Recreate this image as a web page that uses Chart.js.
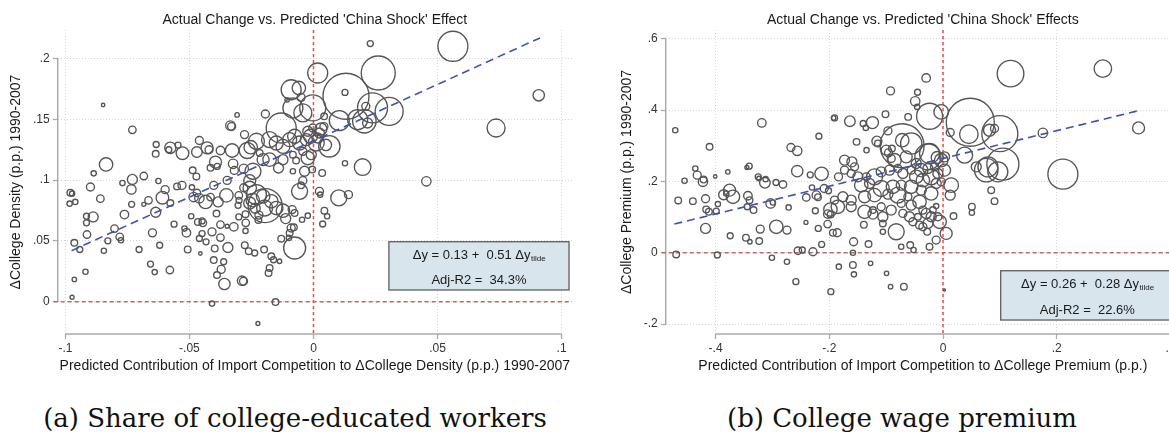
<!DOCTYPE html>
<html>
<head>
<meta charset="utf-8">
<script src="https://cdn.jsdelivr.net/npm/chart.js@4.4.1/dist/chart.umd.min.js"></script>
<style>
  html, body { margin: 0; padding: 0; background: #fff; width: 1169px; height: 438px; overflow: hidden; position: relative; }
  canvas { position: absolute; top: 0; }
  #densityChart { left: 0; }
  #premiumChart { left: 580px; }
  .caption { position: absolute; top: 403px; font-family: "DejaVu Serif", serif; font-size: 26px; color: #111; white-space: nowrap; transform: translateX(-50%); }
</style>
</head>
<body>
<canvas id="densityChart" width="580" height="380"></canvas>
<canvas id="premiumChart" width="610" height="380"></canvas>
<div class="caption" style="left:295px">(a) Share of college-educated workers</div>
<div class="caption" style="left:902px">(b) College wage premium</div>
<script>
// each observation: [predicted contribution, actual change, weight]
const densityObs = [
  [-0.0848,0.1617,3],[-0.073,0.1413,14],[-0.0836,0.1128,45],[-0.0886,0.1055,7],[-0.098,0.0896,11],
  [-0.0973,0.0888,7],[-0.0983,0.0806,7],[-0.096,0.082,7],[-0.0899,0.0943,16],[-0.0859,0.0847,14],
  [-0.0915,0.0702,9],[-0.0888,0.0697,25],[-0.0915,0.0648,9],[-0.0913,0.0552,14],[-0.0964,0.0484,11],
  [-0.0942,0.0429,9],[-0.0845,0.0418,7],[-0.0919,0.0246,7],[-0.0964,0.0183,5],[-0.0973,0.0036,4],
  [-0.0802,0.0601,14],[-0.0781,0.0533,14],[-0.0829,0.05,9],[-0.0776,0.0505,7],[-0.0762,0.0716,18],
  [-0.0733,0.08,9],[-0.073,0.1005,25],[-0.0734,0.0923,22],[-0.077,0.0975,7],[-0.0684,0.1033,14],
  [-0.0634,0.1292,9],[-0.0636,0.1216,11],[-0.0577,0.1265,32],[-0.0583,0.1249,9],[-0.0546,0.1287,9],
  [-0.0528,0.1221,40],[-0.0625,0.0992,7],[-0.0598,0.0921,16],[-0.0609,0.0855,40],[-0.0665,0.0833,14],
  [-0.0684,0.08,4],[-0.0636,0.0735,25],[-0.0649,0.0566,16],[-0.062,0.0464,9],[-0.0657,0.0309,9],
  [-0.064,0.0243,7],[-0.0579,0.026,14],[-0.0703,0.0429,9],[-0.0577,0.0811,11],[-0.055,0.0948,11],
  [-0.053,0.0956,16],[-0.0562,0.0637,9],[-0.052,0.0601,7],[-0.0512,0.0566,18],[-0.0507,0.0429,11],
  [-0.0487,0.108,11],[-0.0472,0.103,11],[-0.046,0.1325,16],[-0.047,0.123,28],[-0.0429,0.1265,36],
  [-0.0421,0.1249,16],[-0.0375,0.1243,18],[-0.0328,0.1243,45],[-0.0395,0.1148,36],[-0.0415,0.1101,11],
  [-0.0388,0.1112,9],[-0.049,0.094,7],[-0.0483,0.086,22],[-0.046,0.085,22],[-0.0435,0.082,45],
  [-0.047,0.0894,14],[-0.0402,0.0956,16],[-0.0348,0.0997,16],[-0.0351,0.0874,45],[-0.0384,0.082,25],
  [-0.0415,0.086,14],[-0.0391,0.0724,11],[-0.0375,0.0634,14],[-0.0321,0.0615,18],[-0.0348,0.062,4],
  [-0.0493,0.0702,7],[-0.0466,0.0656,11],[-0.0446,0.0648,14],[-0.0449,0.0664,9],[-0.0449,0.056,9],
  [-0.046,0.0519,9],[-0.0433,0.0492,9],[-0.0456,0.0396,3],[-0.0409,0.0574,16],[-0.0375,0.0527,14],
  [-0.0345,0.0445,25],[-0.0398,0.0437,11],[-0.0402,0.0342,11],[-0.0362,0.0328,9],[-0.0372,0.0265,16],
  [-0.0389,0.0219,11],[-0.0359,0.0145,32],[-0.0409,-0.0016,7],[-0.0288,0.0172,22],[-0.0282,0.0168,16],
  [-0.0335,0.1448,22],[-0.033,0.144,16],[-0.0308,0.1536,5],[-0.0278,0.1374,16],[-0.0324,0.1134,22],
  [-0.0319,0.1079,16],[-0.0281,0.1093,22],[-0.0267,0.1243,64],[-0.0253,0.127,45],[-0.0281,0.0937,16],
  [-0.0301,0.0874,14],[-0.0304,0.0792,9],[-0.03,0.0833,9],[-0.0257,0.0811,36],[-0.0301,0.0697,9],
  [-0.0274,0.0719,11],[-0.0273,0.0648,14],[-0.0274,0.0582,7],[-0.0277,0.0464,11],[-0.0261,0.0415,11],
  [0.0229,0.2122,9],[0.0017,0.188,100],[0.0261,0.188,289],[0.0131,0.1689,529],[0.0127,0.1721,9],
  [-0.009,0.1743,100],[-0.0059,0.1757,45],[-0.005,0.168,16],[-0.0106,0.166,5],[-0.0003,0.1593,169],
  [-0.0043,0.1552,81],[-0.0083,0.1593,100],[0.0211,0.1606,16],[0.0238,0.1593,225],[0.0305,0.1565,196],
  [0.0178,0.1497,100],[0.0104,0.1489,100],[0.0205,0.1483,137],[0.0218,0.1469,25],[-0.0194,0.1543,16],
  [-0.013,0.1428,225],[-0.023,0.1319,64],[-0.0177,0.1332,64],[-0.015,0.1305,49],[-0.0123,0.1277,49],
  [-0.0096,0.1332,49],[-0.0076,0.136,49],[-0.0056,0.1305,49],[-0.0029,0.1332,36],[-0.0012,0.136,49],
  [0.0011,0.1305,64],[0.0017,0.1346,25],[-0.0023,0.1401,25],[0.0024,0.1387,25],[-0.0003,0.1428,16],
  [0.0064,0.1277,114],[-0.0023,0.1181,45],[-0.0009,0.1209,25],[-0.0043,0.1236,16],[-0.0083,0.1209,11],
  [-0.0123,0.1168,25],[-0.007,0.116,11],[-0.0141,0.1099,25],[-0.0177,0.1168,45],[-0.0217,0.1223,11],
  [-0.0083,0.1072,7],[-0.0036,0.1072,25],[-0.0005,0.1086,11],[0.0035,0.1058,11],[0.0127,0.1138,7],
  [0.0198,0.1107,69],[-0.0244,0.1072,64],[-0.0203,0.1168,36],[-0.0043,0.0995,16],[-0.005,0.0957,11],
  [-0.0056,0.0907,64],[0.0024,0.0907,16],[0.0027,0.088,7],[0.0102,0.0853,64],[0.0141,0.088,16],
  [0.0044,0.0748,11],[0.0055,0.0702,7],[0.0037,0.0639,9],[-0.0023,0.0707,7],[-0.0046,0.0674,7],
  [-0.023,0.088,100],[-0.0203,0.0866,45],[-0.017,0.0825,45],[-0.0197,0.077,64],[-0.015,0.077,45],
  [-0.0123,0.0748,45],[-0.0112,0.0683,25],[-0.0195,0.079,289],[-0.0086,0.0757,16],[-0.0076,0.0729,11],
  [-0.009,0.0606,16],[-0.0079,0.0611,11],[-0.0096,0.0565,11],[-0.0099,0.0524,7],[-0.013,0.0518,11],
  [-0.0076,0.0441,121],[-0.0199,0.0428,11],[-0.0237,0.04,9],[-0.017,0.0373,11],[-0.0161,0.0345,9],
  [-0.0137,0.0332,5],[-0.0177,0.0277,11],[-0.0181,0.0236,11],[-0.0153,-0.0003,11],[-0.0224,-0.018,4],
  [0.005,0.1289,32],[0.0042,0.144,16],[0.0043,0.1524,11],[0.003,0.142,36],[-0.0257,0.0995,36],
  [-0.0257,0.0935,45],[-0.0245,0.0835,45],[-0.0235,0.0768,25],[-0.022,0.0712,16],[-0.0222,0.0672,11],
  [0.0562,0.21,225],[0.0908,0.1697,32],[0.0736,0.1428,81],[0.0455,0.099,22]
];

const premiumObs = [
  [-0.471,0.3436,7],[-0.4106,0.2969,11],[-0.3187,0.3641,18],[-0.4358,0.2362,7],[-0.4323,0.2176,16],
  [-0.4223,0.1989,22],[-0.4211,0.2054,11],[-0.4546,0.2017,7],[-0.4007,0.2138,3],[-0.3785,0.2269,5],
  [-0.345,0.239,4],[-0.3409,0.2428,9],[-0.325,0.2129,9],[-0.3238,0.2082,5],[-0.3133,0.1961,28],
  [-0.3121,0.2064,7],[-0.2938,0.197,9],[-0.2815,0.1914,14],[-0.2675,0.295,16],[-0.2564,0.2857,22],
  [-0.2564,0.2288,32],[-0.2335,0.2185,9],[-0.2136,0.2213,45],[-0.2183,0.3268,9],[-0.1925,0.3782,5],
  [-0.4658,0.1466,11],[-0.44,0.1447,11],[-0.4177,0.1513,16],[-0.4165,0.1214,11],[-0.4118,0.1149,11],
  [-0.3989,0.1167,9],[-0.396,0.1363,7],[-0.3859,0.1625,25],[-0.3754,0.1755,36],[-0.3695,0.1569,45],
  [-0.3813,0.1662,7],[-0.4177,0.0682,25],[-0.3743,0.0476,9],[-0.3467,0.042,11],[-0.3397,0.0308,5],
  [-0.3233,0.0327,11],[-0.3432,0.1597,18],[-0.3403,0.1475,11],[-0.3444,0.1289,9],[-0.3333,0.1195,11],
  [-0.3215,0.0663,16],[-0.3033,0.1382,22],[-0.2992,0.141,7],[-0.2933,0.0728,45],[-0.2745,0.0635,16],
  [-0.2716,0.127,7],[-0.2405,0.155,14],[-0.2305,0.183,7],[-0.2246,0.1176,9],[-0.2228,0.1615,18],
  [-0.2199,0.1559,11],[-0.2411,0.085,4],[-0.2194,0.0682,9],[-0.2135,0.0233,9],[-0.2029,0.0803,14],
  [-0.4693,-0.0047,11],[-0.397,-0.0065,9],[-0.301,-0.014,7],[-0.2745,-0.0252,7],[-0.2552,0.0056,14],
  [-0.2476,0.0075,9],[-0.2288,0.0028,16],[-0.2588,-0.0812,9],[-0.1973,-0.1092,9],[-0.2026,0.1083,18],
  [-0.2014,0.1737,9],[-0.209,0.1802,16],[-0.198,0.121,45],[-0.1978,0.1074,11],[-0.1937,0.056,11],
  [-0.0296,0.4902,18],[-0.0923,0.4538,16],[-0.0448,0.45,9],[-0.0489,0.4248,22],[-0.0454,0.409,7],
  [-0.1908,0.3782,9],[-0.1638,0.3688,28],[-0.1405,0.3623,9],[-0.1358,0.3501,7],[-0.1241,0.3651,36],
  [-0.1012,0.3884,11],[-0.0613,0.381,11],[-0.0236,0.3828,169],[-0.0032,0.395,53],[0.048,0.366,576],
  [0.0455,0.3324,86],[0.0818,0.3436,36],[0.0906,0.3483,16],[0.1,0.334,324],[0.0127,0.3371,16],
  [-0.1521,0.3109,11],[-0.1345,0.2876,7],[-0.1163,0.3128,25],[-0.1145,0.3063,11],[-0.0969,0.3417,16],
  [-0.072,0.3,484],[-0.0559,0.3063,114],[-0.0717,0.3156,45],[-0.0899,0.2922,11],[-0.0958,0.2801,16],
  [-0.0911,0.2642,16],[-0.0266,0.2689,169],[-0.0237,0.2782,100],[-0.0032,0.2596,45],[0.0027,0.2689,25],
  [-0.0102,0.267,36],[0.038,0.2736,64],[0.0585,0.2409,25],[0.0761,0.2316,137],[0.079,0.2409,100],
  [0.0965,0.2269,100],[0.0848,0.1755,11],[0.0906,0.1447,11],[0.0508,0.1289,11],[0.0508,0.112,7],
  [0.0144,0.1895,53],[0.0127,0.1615,25],[0.0027,0.2316,36],[-0.1732,0.2596,25],[-0.1603,0.2549,25],
  [-0.1556,0.2409,16],[-0.1615,0.2222,16],[-0.1732,0.2316,16],[-0.1838,0.2129,16],[-0.1497,0.2129,25],
  [-0.135,0.2129,16],[-0.1204,0.2129,64],[-0.1087,0.2269,25],[-0.094,0.2316,25],[-0.0794,0.2362,16],
  [-0.0706,0.2222,25],[-0.0559,0.2316,16],[-0.047,0.2129,45],[-0.0354,0.2035,45],[-0.0208,0.2129,64],
  [-0.012,0.1942,25],[-0.0032,0.1989,16],[-0.1438,0.1895,45],[-0.1292,0.1942,25],[-0.1087,0.1802,64],
  [-0.0881,0.1849,45],[-0.0735,0.1895,25],[-0.0559,0.1849,45],[-0.0383,0.1755,25],[-0.0208,0.1662,45],
  [-0.1761,0.1569,25],[-0.1908,0.1475,16],[-0.1615,0.1475,25],[-0.138,0.1569,36],[-0.1204,0.1615,45],
  [-0.0969,0.1643,25],[-0.0794,0.1615,64],[-0.0618,0.1569,16],[-0.185,0.1289,45],[-0.1615,0.1289,25],
  [-0.138,0.1148,45],[-0.1233,0.1083,25],[-0.1058,0.1008,25],[-0.1058,0.0822,11],[-0.1233,0.1195,11],
  [-0.0823,0.0588,64],[-0.0706,0.1102,16],[-0.0589,0.1008,25],[-0.053,0.0868,16],[-0.0413,0.0775,16],
  [-0.0354,0.0728,16],[-0.0266,0.0822,25],[-0.0296,0.1102,25],[-0.0178,0.1195,11],[-0.012,0.1307,7],
  [-0.009,0.1008,16],[-0.006,0.0868,45],[0.0056,0.0542,36],[-0.012,0.0355,16],[-0.0237,0.0168,11],
  [-0.0278,0.0588,11],[-0.1861,0.056,16],[-0.1573,0.0308,16],[-0.1392,0.0784,11],[-0.131,0.0243,11],
  [-0.1058,0.0588,7],[-0.0735,0.0168,7],[-0.0577,0.0215,11],[-0.0518,0.0075,7],[0.0185,0.1027,11],
  [-0.1585,0.0,7],[-0.1832,-0.0392,7],[-0.1585,-0.0345,11],[-0.1567,-0.0607,7],[-0.1274,-0.0299,5],
  [-0.0993,-0.0579,5],[-0.0923,-0.0952,5],[-0.0688,-0.0952,11],[0.0027,-0.1046,1],
  [0.1188,0.5023,177],[0.2812,0.5163,76],[0.344,0.3501,36],[0.1757,0.3361,22],[0.2109,0.2204,225],
  [0.1053,0.2484,256],
  [-0.0999,0.2876,25],[-0.0853,0.2596,45],[-0.0647,0.2689,36],[-0.0471,0.2502,25],[-0.0383,0.2316,45],
  [-0.0266,0.2362,25],[-0.0149,0.2409,16],[-0.009,0.2222,25],[-0.0413,0.1429,45],[-0.056,0.1335,25],
  [-0.0735,0.1382,16],[-0.0911,0.1195,25],[-0.1087,0.1289,16],[-0.0354,0.1195,16],[-0.0208,0.1008,25],
  [-0.0442,0.1008,11]
];

// fitted lines (end points over the data range)
const densityFitX = [-0.0975, 0.0913];
const densityFitY = [0.0419, 0.2169];
const premiumFitX = [-0.4726, 0.3418];
const premiumFitY = [0.0805, 0.3975];

// axis ticks
const densityXTicks = [-0.1, -0.05, 0, 0.05, 0.1];
const densityYTicks = [0, 0.05, 0.1, 0.15, 0.2];
const premiumXTicks = [-0.4, -0.2, 0, 0.2, 0.4];
const premiumYTicks = [-0.2, 0, 0.2, 0.4, 0.6];

const FONT = '"Liberation Sans", Arial, sans-serif';
Chart.defaults.font.family = FONT;
Chart.defaults.color = '#333';

// stata style labels: .05, -.1, 0
const stataLabel = (v) => String(Math.round(v * 1000) / 1000).replace('0.', '.');

// reference lines, axis lines and the regression box
const stataDecor = {
  id: 'stataDecor',
  beforeDatasetsDraw(chart, args, o) {
    const { ctx, chartArea: a, scales: { x, y } } = chart;
    ctx.save();
    ctx.strokeStyle = '#ababab';
    ctx.lineWidth = 1.5;
    ctx.beginPath();
    ctx.moveTo(a.left, y.getPixelForValue(o.yTicks[0]));
    ctx.lineTo(a.left, y.getPixelForValue(o.yTicks[o.yTicks.length - 1]));
    ctx.moveTo(x.getPixelForValue(o.xTicks[0]), a.bottom);
    ctx.lineTo(x.getPixelForValue(o.xTicks[o.xTicks.length - 1]), a.bottom);
    ctx.stroke();

    const y0 = y.getPixelForValue(0);
    ctx.setLineDash([4, 3]);
    ctx.strokeStyle = '#b86a6a';
    ctx.beginPath();
    ctx.moveTo(a.left - 4, y0);
    ctx.lineTo(a.right, y0);
    ctx.stroke();

    const x0 = x.getPixelForValue(0);
    ctx.setLineDash([3, 3]);
    ctx.strokeStyle = '#f04a4a';
    ctx.beginPath();
    ctx.moveTo(x0, a.top);
    ctx.lineTo(x0, a.bottom);
    ctx.stroke();
    ctx.restore();
  },
  afterDatasetsDraw(chart, args, o) {
    const { ctx, scales: { x, y } } = chart;
    const b = o.box;
    const left = x.getPixelForValue(b.x0);
    const right = x.getPixelForValue(b.x1);
    const top = y.getPixelForValue(b.y1);
    const bottom = y.getPixelForValue(b.y0);
    const h = bottom - top;
    const cx = (left + right) / 2;
    ctx.save();
    ctx.fillStyle = '#d8e5ec';
    ctx.fillRect(left, top, right - left, h);
    ctx.strokeStyle = '#5e5e5e';
    ctx.lineWidth = 1.3;
    ctx.strokeRect(left, top, right - left, h);

    ctx.fillStyle = '#1a1a1a';
    ctx.textBaseline = 'alphabetic';
    ctx.textAlign = 'left';
    ctx.font = '13px ' + FONT;
    const w1 = ctx.measureText(o.eq).width;
    ctx.font = '8px ' + FONT;
    const ws = ctx.measureText(o.sub).width;
    const sx = cx - (w1 + ws) / 2;
    const base1 = top + h * 0.26 + 4.5;
    ctx.font = '13px ' + FONT;
    ctx.fillText(o.eq, sx, base1);
    ctx.font = '8px ' + FONT;
    ctx.fillText(o.sub, sx + w1 + 0.5, base1 + 2);
    ctx.font = '13px ' + FONT;
    ctx.textAlign = 'center';
    ctx.fillText(o.fit, cx, top + h * 0.78 + 4.5);
    ctx.restore();
  }
};

function makeChart(id, cfg) {
  const ctx = document.getElementById(id).getContext('2d');
  return new Chart(ctx, {
    type: 'bubble',
    data: {
      datasets: [
        {
          type: 'line',
          data: cfg.fitX.map((v, i) => ({ x: v, y: cfg.fitY[i] })),
          borderColor: '#3b54b3',
          borderWidth: 1.6,
          borderDash: [8, 5],
          pointRadius: 0,
          fill: false,
        },
        {
          data: cfg.obs.map((d) => ({ x: d[0], y: d[1], r: Math.sqrt(d[2]) })),
          backgroundColor: 'rgba(0,0,0,0)',
          borderColor: '#555555',
          borderWidth: 1.35,
          clip: false,
        },
      ],
    },
    options: {
      responsive: false,
      animation: false,
      events: [],
      layout: { autoPadding: false, padding: { left: cfg.padLeft, right: cfg.padRight, top: 0, bottom: 0 } },
      plugins: {
        legend: { display: false },
        tooltip: { enabled: false },
        title: {
          display: true,
          text: cfg.title,
          fullSize: false,
          color: '#1a1a1a',
          font: { size: 14, weight: 'normal' },
          padding: { top: 11.5, bottom: 1.7 },
        },
        stataDecor: { xTicks: cfg.xTicks, yTicks: cfg.yTicks, box: cfg.box, eq: cfg.eq, sub: 'tilde', fit: cfg.fit },
      },
      scales: {
        x: {
          type: 'linear',
          min: cfg.xMin,
          max: cfg.xMax,
          afterBuildTicks: (s) => { s.ticks = cfg.xTicks.map((v) => ({ value: v })); },
          afterFit: (s) => { s.height = 46; },
          ticks: { callback: stataLabel, color: '#333', font: { size: 12 }, padding: 2, maxRotation: 0, autoSkip: false },
          grid: { color: '#d6d6d6', lineWidth: 1, tickLength: 5, tickColor: '#ababab', tickWidth: 1.3 },
          border: { display: false, dash: [1, 2] },
          title: { display: true, text: cfg.xTitle, color: '#1a1a1a', font: { size: 14 }, padding: { top: 0, bottom: 5.9 } },
        },
        y: {
          type: 'linear',
          min: cfg.yMin,
          max: cfg.yMax,
          afterBuildTicks: (s) => { s.ticks = cfg.yTicks.map((v) => ({ value: v })); },
          afterFit: (s) => { s.width = cfg.yWidth; },
          ticks: { callback: stataLabel, color: '#333', font: { size: 12 }, padding: 3, autoSkip: false },
          grid: { color: '#d6d6d6', lineWidth: 1, tickLength: 5, tickColor: '#ababab', tickWidth: 1.3 },
          border: { display: false, dash: [1, 2] },
          title: { display: true, text: cfg.yTitle, color: '#1a1a1a', font: { size: 14 }, padding: { top: 7.6, bottom: 0 } },
        },
      },
    },
    plugins: [stataDecor],
  });
}

makeChart('densityChart', {
  obs: densityObs,
  fitX: densityFitX,
  fitY: densityFitY,
  xTicks: densityXTicks,
  yTicks: densityYTicks,
  xMin: -0.1031, xMax: 0.1042,
  yMin: -0.0266, yMax: 0.2234,
  padLeft: 0, padRight: 8, yWidth: 57.7,
  title: "Actual Change vs. Predicted 'China Shock' Effect",
  xTitle: 'Predicted Contribution of Import Competition to \u0394College Density (p.p.) 1990-2007',
  yTitle: '\u0394College Density (p.p.) 1990-2007',
  box: { x0: 0.0304, x1: 0.103, y0: 0.0096, y1: 0.0493 },
  eq: '\u0394y = 0.13 +  0.51 \u0394y',
  fit: 'Adj-R2 =  34.3%',
});

makeChart('premiumChart', {
  obs: premiumObs,
  fitX: premiumFitX,
  fitY: premiumFitY,
  xTicks: premiumXTicks,
  yTicks: premiumYTicks,
  xMin: -0.4878, xMax: 0.4169,
  yMin: -0.228, yMax: 0.6247,
  padLeft: 31, padRight: 10, yWidth: 54.7,
  title: "Actual Change vs. Predicted 'China Shock' Effects",
  xTitle: 'Predicted Contribution of Import Competition to \u0394College Premium (p.p.)',
  yTitle: '\u0394College Premium (p.p.) 1990-2007',
  box: { x0: 0.1015, x1: 0.4063, y0: -0.1888, y1: -0.0505 },
  eq: '\u0394y = 0.26 +  0.28 \u0394y',
  fit: 'Adj-R2 =  22.6%',
});
</script>
</body>
</html>
